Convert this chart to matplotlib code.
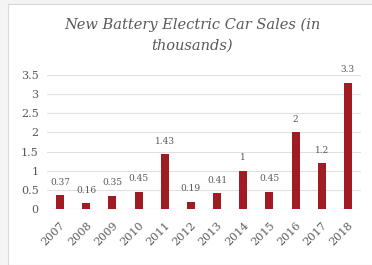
import matplotlib
matplotlib.use("Agg")
import matplotlib.pyplot as plt
from matplotlib.patches import Rectangle

years = ["2007", "2008", "2009", "2010", "2011", "2012", "2013", "2014", "2015", "2016", "2017", "2018"]
sales = [0.37, 0.16, 0.35, 0.45, 1.43, 0.19, 0.41, 1.0, 0.45, 2.0, 1.2, 3.3]
labels = ["0.37", "0.16", "0.35", "0.45", "1.43", "0.19", "0.41", "1", "0.45", "2", "1.2", "3.3"]
yticks = [0, 0.5, 1, 1.5, 2, 2.5, 3, 3.5]
ytick_labels = ["0", "0.5", "1", "1.5", "2", "2.5", "3", "3.5"]

plt.rcParams['font.family'] = ['DejaVu Serif']
txt = '#595959'

fig = plt.figure(figsize=(3.72, 2.65), dpi=100)
fig.patch.set_facecolor('#f4f4f4')
fig.patches.append(Rectangle((8/372, 0), 1, 1 - 4/265, transform=fig.transFigure,
                             facecolor='white', edgecolor='#d9d9d9', linewidth=0.8, zorder=-5))

ax = fig.add_axes([47/372, 1 - 209/265, 314/372, (209 - 75)/265])
ax.set_facecolor('none')
x = list(range(len(years)))
ax.bar(x, sales, width=0.31, color='#A11C22', zorder=3)
for xi, v, lab in zip(x, sales, labels):
    ax.annotate(lab, (xi, v), xytext=(0, 6), textcoords='offset points',
                ha='center', va='bottom', fontsize=6.5, color=txt)
ax.set_xlim(-0.5, 11.5)
ax.set_ylim(0, 3.5)
ax.set_yticks(yticks)
ax.set_yticklabels(ytick_labels, fontsize=8, color=txt)
ax.set_xticks(x)
ax.set_xticklabels(years, rotation=45, ha='right', rotation_mode='anchor', fontsize=8, color=txt)
ax.tick_params(length=0, pad=6)
ax.tick_params(axis='x', pad=8)
ax.grid(axis='y', color='#e0e0e0', linewidth=0.8, zorder=0)
for s in ax.spines.values():
    s.set_visible(False)
ax.axhline(0, color='#d9d9d9', linewidth=0.8, zorder=2)

fig.text(192/372, 1 - 35/265, "New Battery Electric Car Sales (in\nthousands)", ha='center', va='center',
         fontsize=10.5, style='italic', color=txt, linespacing=1.55)

fig.savefig('out.png', dpi=100, facecolor=fig.get_facecolor())
